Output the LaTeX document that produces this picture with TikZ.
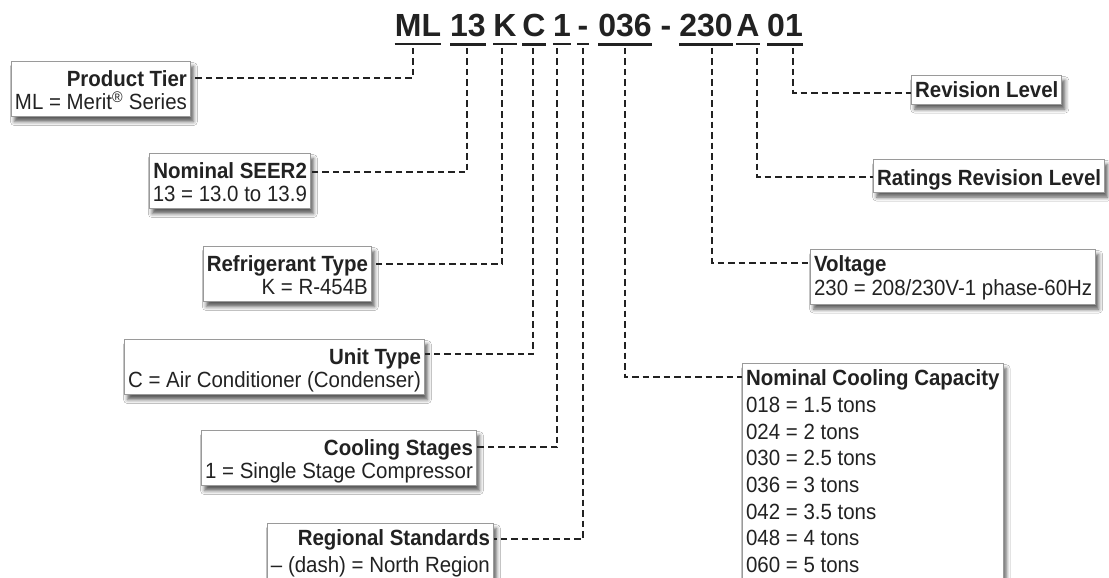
\documentclass[tikz,border=0pt]{standalone}
\usepackage{fontspec}
\setmainfont{Liberation Sans}[FakeStretch=0.93]
\newfontfamily\codefont{Liberation Sans}
\usetikzlibrary{shadows.blur,calc}
\definecolor{ink}{HTML}{222222}
\definecolor{edge}{HTML}{9A9A9A}
\newcommand{\tstr}{\rule{0pt}{24.5pt}}
\newcommand{\bstr}{\rule[-7pt]{0pt}{7pt}}
\begin{document}
\begin{tikzpicture}[x=1pt,y=-1pt,
 box/.style={draw=edge, line width=1.2pt, fill=white, inner xsep=3.5pt, inner ysep=0pt,
   font=\fontsize{22}{23.5}\selectfont, text=ink,
   blur shadow={shadow xshift=3pt, shadow yshift=-5pt, shadow blur radius=4pt, shadow opacity=65}},
 lbox/.style={box, anchor=north east, align=right},
 rbox/.style={box, anchor=north west, align=left},
 code/.style={font=\codefont\fontsize{32}{32}\selectfont\bfseries, text=ink, inner sep=0pt, anchor=base},
 ul/.style={ink, line width=2.2pt},
 conn/.style={ink, line width=2.1pt, dash pattern=on 6.5pt off 4pt}]
\fill[white] (0,0) rectangle (1109,578);
\useasboundingbox (0,0) rectangle (1109,578);

% model number
\node[code] (cML) at (418,37) {ML};
\node[code] (c13) at (468,37) {13};
\node[code] (cK) at (505,37) {K};
\node[code] (cC) at (534,37) {C};
\node[code] (c1) at (562,37) {1};
\node[code] (cD1) at (583,37) {-};
\node[code] (c036) at (625,37) {036};
\node[code] (cD2) at (666,37) {-};
\node[code] (c230) at (706,37) {230};
\node[code] (cA) at (748,37) {A};
\node[code] (c01) at (785,37) {01};
\foreach \n in {cML,c13,cK,cC,c1,cD1,c036,c230,cA,c01}
  \draw[ul] ([yshift=-7pt]\n.south west) -- ([yshift=-7pt]\n.south east);

% tick points
\coordinate (tML) at (413,48);
\coordinate (t13) at (467,48);
\coordinate (tK) at (502,48);
\coordinate (tC) at (533,48);
\coordinate (t1) at (557,48);
\coordinate (tD) at (583,48);
\coordinate (t036) at (625,48);
\coordinate (t230) at (712,48);
\coordinate (tA) at (757,48);
\coordinate (t01) at (793,48);

% left boxes
\node[lbox] (pt) at (191,61) {\tstr\textbf{Product Tier}\\ ML = Merit\textsuperscript{®} Series\bstr};
\node[lbox] (seer) at (311,153) {\tstr\textbf{Nominal SEER2}\\ 13 = 13.0 to 13.9\bstr};
\node[lbox] (rt) at (372,246) {\tstr\textbf{Refrigerant Type}\\ K = R-454B\bstr};
\node[lbox] (ut) at (425,339) {\tstr\textbf{Unit Type}\\ C = Air Conditioner (Condenser)\bstr};
\node[lbox] (cs) at (477,430) {\tstr\textbf{Cooling Stages}\\ 1 = Single Stage Compressor\bstr};
\node[lbox, font=\fontsize{22}{26.7}\selectfont] (rs) at (494,523) {\rule{0pt}{22pt}\textbf{Regional Standards}\\ – (dash) = North Region\bstr};

% right boxes
\node[rbox] (rl) at (911,75) {\rule{0pt}{22pt}\textbf{Revision Level}\rule[-6.5pt]{0pt}{6.5pt}};
\node[rbox] (rrl) at (873,159) {\rule{0pt}{26pt}\textbf{Ratings Revision Level}\rule[-6.5pt]{0pt}{6.5pt}};
\node[rbox] (vol) at (810,249) {\rule{0pt}{22pt}\textbf{Voltage}\\ 230 = 208/230V-1 phase-60Hz\rule[-9pt]{0pt}{9pt}};
\node[rbox, font=\fontsize{22}{26.7}\selectfont] (ncc) at (742,363) {\rule{0pt}{22pt}\textbf{Nominal Cooling Capacity}\\
 018 = 1.5 tons\\ 024 = 2 tons\\ 030 = 2.5 tons\\ 036 = 3 tons\\ 042 = 3.5 tons\\ 048 = 4 tons\\ 060 = 5 tons\bstr};

% connectors
\draw[conn] (tML) |- (pt.east |- 0,78);
\draw[conn] (t13) |- (seer.east |- 0,172);
\draw[conn] (tK) |- (rt.east |- 0,264);
\draw[conn] (tC) |- (ut.east |- 0,354);
\draw[conn] (t1) |- (cs.east |- 0,447);
\draw[conn] (tD) |- (rs.east |- 0,539);
\draw[conn] (t036) |- (ncc.west |- 0,377);
\draw[conn] (t230) |- (vol.west |- 0,263);
\draw[conn] (tA) |- (rrl.west |- 0,177);
\draw[conn] (t01) |- (rl.west |- 0,93);
\end{tikzpicture}
\end{document}
